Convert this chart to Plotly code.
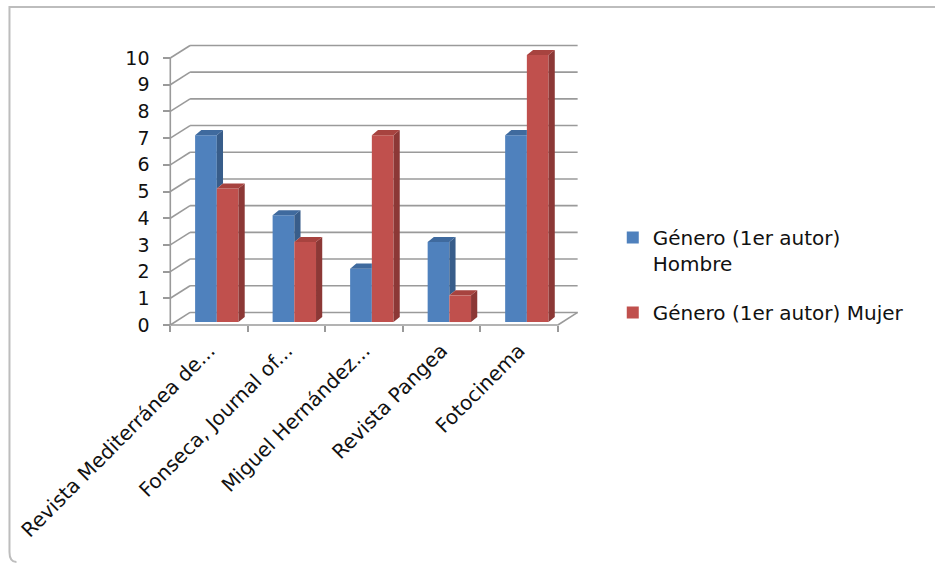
import plotly.graph_objects as go

# ---- data -------------------------------------------------------------
categories = [
    "Revista Mediterránea de...",
    "Fonseca, Journal of...",
    "Miguel Hernández...",
    "Revista Pangea",
    "Fotocinema",
]
hombre = [7, 4, 2, 3, 7]
mujer = [5, 3, 7, 1, 10]
series_names = ["Género (1er autor)<br>Hombre", "Género (1er autor) Mujer"]
y_ticks = list(range(0, 11))

# ---- pseudo-3D geometry (data units) ----------------------------------
WALL_DX, WALL_DY = 0.255, 0.47     # depth of the floor / side wall
BAR_SX, BAR_BASE = 0.10, 0.11      # front plane of the columns
BAR_DX, BAR_DY = 0.08, 0.19        # depth of each column
BAR_W = 0.28

BLUE = dict(front="#4F81BD", side="#385D8A", top="#3F6A9E")
RED = dict(front="#C0504D", side="#8C3836", top="#A7433F")
GRID = "#9A9A9A"
FONT = "DejaVu Sans"
TEXT = "#111111"

# ---- canvas / axes mapping --------------------------------------------
W_PX, H_PX = 935, 567
X_RANGE = [-0.62, 4.85]
Y_RANGE = [-0.30, 10.75]
M_L, M_R, M_T, M_B = 160.7, 349.8, 38.0, 234.0
PLOT_W = W_PX - M_L - M_R
PLOT_H = H_PX - M_T - M_B


def px_to_paper(px, py):
    return (px - M_L) / PLOT_W, (H_PX - M_B - py) / PLOT_H


def poly_trace(polys, color):
    xs, ys = [], []
    for p in polys:
        for (x, y) in p:
            xs.append(x)
            ys.append(y)
        xs.append(p[0][0])
        ys.append(p[0][1])
        xs.append(None)
        ys.append(None)
    return go.Scatter(
        x=xs, y=ys, mode="lines", fill="toself", fillcolor=color,
        line=dict(width=0, color=color), hoverinfo="skip", showlegend=False,
    )


fig = go.Figure()

# front faces of the columns
for vals, name, col, off in [
    (hombre, series_names[0], BLUE, -BAR_W / 2),
    (mujer, series_names[1], RED, BAR_W / 2),
]:
    fig.add_trace(go.Bar(
        x=[i + BAR_SX + off for i in range(len(categories))],
        y=vals, base=BAR_BASE, width=BAR_W, name=name,
        marker=dict(color=col["front"], line=dict(width=0)),
        legendgroup=name, hoverinfo="skip",
    ))

# side and top faces
blue_side, blue_top, red_side, red_top = [], [], [], []
for i, (b, r) in enumerate(zip(hombre, mujer)):
    x0 = i + BAR_SX - BAR_W
    x1 = i + BAR_SX
    x2 = i + BAR_SX + BAR_W
    B = BAR_BASE + b
    R = BAR_BASE + r
    if r < b:
        blue_top.append([(x0, B), (x1, B), (x1 + BAR_DX, B + BAR_DY), (x0 + BAR_DX, B + BAR_DY)])
        blue_side.append([(x1, R), (x1, B), (x1 + BAR_DX, B + BAR_DY), (x1 + BAR_DX, R + BAR_DY)])
    else:
        blue_top.append([(x0, B), (x1, B), (x1, B + BAR_DY), (x0 + BAR_DX, B + BAR_DY)])
    red_top.append([(x1, R), (x2, R), (x2 + BAR_DX, R + BAR_DY), (x1 + BAR_DX, R + BAR_DY)])
    red_side.append([(x2, BAR_BASE), (x2, R), (x2 + BAR_DX, R + BAR_DY), (x2 + BAR_DX, BAR_BASE + BAR_DY)])

fig.add_trace(poly_trace(blue_side, BLUE["side"]))
fig.add_trace(poly_trace(blue_top, BLUE["top"]))
fig.add_trace(poly_trace(red_side, RED["side"]))
fig.add_trace(poly_trace(red_top, RED["top"]))

# walls, floor and gridlines drawn underneath the columns
n = len(categories)
left, right = -0.5, n - 0.5
shapes = []
line_style = dict(color=GRID, width=1.6)
for v in y_ticks:
    shapes.append(dict(type="line", xref="x", yref="y", layer="below",
                       x0=left, y0=v, x1=left + WALL_DX, y1=v + WALL_DY, line=line_style))
    shapes.append(dict(type="line", xref="x", yref="y", layer="below",
                       x0=left + WALL_DX, y0=v + WALL_DY, x1=right + WALL_DX, y1=v + WALL_DY,
                       line=line_style))
shapes.append(dict(type="line", xref="x", yref="y", layer="below",
                   x0=left, y0=0, x1=left, y1=y_ticks[-1], line=line_style))
shapes.append(dict(type="line", xref="x", yref="y", layer="below",
                   x0=left, y0=0, x1=right, y1=0, line=line_style))
shapes.append(dict(type="line", xref="x", yref="y", layer="below",
                   x0=right, y0=0, x1=right + WALL_DX, y1=WALL_DY, line=line_style))

# outer chart frame (top and left edges, rounded lower-left corner)
p_a = px_to_paper(W_PX + 5, 7)
p_b = px_to_paper(9, 7)
p_c = px_to_paper(9, 552)
p_d = px_to_paper(16, 562)
shapes.append(dict(
    type="path", xref="paper", yref="paper", layer="below",
    path=f"M {p_a[0]},{p_a[1]} L {p_b[0]},{p_b[1]} L {p_c[0]},{p_c[1]} "
         f"Q {p_b[0]},{px_to_paper(9, 562)[1]} {p_d[0]},{p_d[1]}",
    line=dict(color="#BDBDBD", width=2),
))

fig.update_layout(
    width=W_PX, height=H_PX,
    margin=dict(l=M_L, r=M_R, t=M_T, b=M_B, pad=0),
    paper_bgcolor="white", plot_bgcolor="white",
    barmode="overlay",
    shapes=shapes,
    font=dict(family=FONT, size=19, color=TEXT),
    legend=dict(
        x=px_to_paper(613, 0)[0], y=px_to_paper(0, 218)[1],
        xanchor="left", yanchor="top", valign="top",
        font=dict(family=FONT, size=20, color=TEXT),
        tracegroupgap=20, bgcolor="rgba(0,0,0,0)",
    ),
    xaxis=dict(
        range=X_RANGE, showgrid=False, zeroline=False, showline=False,
        tickmode="array", tickvals=list(range(n)), ticktext=categories,
        tickangle=-45, ticks="",
        ticklabelstandoff=9,
        anchor="free", position=(0 - Y_RANGE[0]) / (Y_RANGE[1] - Y_RANGE[0]),
        minor=dict(tickmode="array", tickvals=[k - 0.5 for k in range(n + 1)],
                   ticks="outside", ticklen=6, tickwidth=1.6, tickcolor=GRID),
        tickfont=dict(family=FONT, size=20, color=TEXT),
        fixedrange=True,
    ),
    yaxis=dict(
        range=Y_RANGE, showgrid=False, zeroline=False, showline=False,
        tickmode="array", tickvals=y_ticks,
        ticks="outside", ticklen=7, tickwidth=1.6, tickcolor=GRID,
        ticklabelstandoff=10,
        anchor="free", position=(left - X_RANGE[0]) / (X_RANGE[1] - X_RANGE[0]),
        tickfont=dict(family=FONT, size=19, color=TEXT),
        fixedrange=True,
    ),
)

fig.write_html("out.html")
